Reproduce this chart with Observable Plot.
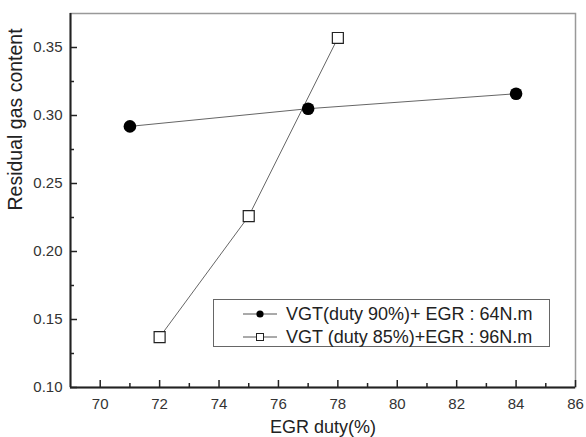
<!DOCTYPE html>
<html><head><meta charset="utf-8">
<script src="https://cdn.jsdelivr.net/npm/d3@7"></script>
<script src="https://cdn.jsdelivr.net/npm/@observablehq/plot@0.6"></script>
<style>
body{margin:0;background:#fff;font-family:"Liberation Sans",Arial,sans-serif;}
#wrap{position:relative;width:586px;height:437px;overflow:hidden;}
.legend{position:absolute;left:213px;top:299px;width:337px;height:48px;border:1px solid #666;box-sizing:border-box;background:#fff;}
.row{position:absolute;left:0;height:20px;display:flex;align-items:center;font-size:18px;color:#222;white-space:nowrap;}
.row svg{margin-left:29px;margin-right:9px;}
</style></head><body><div id="wrap"></div>
<script>
const series1Name = "VGT(duty 90%)+ EGR : 64N.m";
const series1X = [71, 77, 84];
const series1Y = [0.292, 0.305, 0.316];
const series2Name = "VGT (duty 85%)+EGR : 96N.m";
const series2X = [72, 75, 78];
const series2Y = [0.137, 0.226, 0.357];
const xTicks = [70, 72, 74, 76, 78, 80, 82, 84, 86];
const xMinor = [71, 73, 75, 77, 79, 81, 83, 85];
const yTicks = [0.10, 0.15, 0.20, 0.25, 0.30, 0.35];
const yMinor = [0.125, 0.175, 0.225, 0.275, 0.325];
const xTitle = "EGR duty(%)";
const yTitle = "Residual gas content";

const data1 = series1X.map((x, i) => ({x, y: series1Y[i]}));
const data2 = series2X.map((x, i) => ({x, y: series2Y[i]}));

const W = 586, H = 437, mL = 70, mR = 11, mT = 13, mB = 50;
const iW = W - mL - mR, iH = H - mT - mB;

const chart = Plot.plot({
  width: W, height: H,
  marginLeft: mL, marginRight: mR, marginTop: mT, marginBottom: mB,
  style: {fontFamily: "'Liberation Sans', Arial, sans-serif", color: "#333", background: "#fff"},
  x: {domain: [69, 86]},
  y: {domain: [0.10, 0.375]},
  marks: [
    Plot.frame({stroke: "#999", strokeWidth: 1.5}),
    Plot.ruleX([69], {stroke: "#222", strokeWidth: 2}),
    Plot.ruleY([0.10], {stroke: "#222", strokeWidth: 2}),
    Plot.tickX(xTicks, {x: d => d, insetTop: iH - 7, stroke: "#222", strokeWidth: 1.5}),
    Plot.tickX(xMinor, {x: d => d, insetTop: iH - 4, stroke: "#222", strokeWidth: 1.5}),
    Plot.tickY(yTicks, {y: d => d, insetRight: iW - 7, stroke: "#222", strokeWidth: 1.5}),
    Plot.tickY(yMinor, {y: d => d, insetRight: iW - 4, stroke: "#222", strokeWidth: 1.5}),
    Plot.axisX({ticks: xTicks, tickSize: 0, tickPadding: 11, tickFormat: d => d, fontSize: 15, label: null}),
    Plot.axisY({ticks: yTicks, tickSize: 0, tickPadding: 8, tickFormat: d3.format(".2f"), fontSize: 15, label: null}),
    Plot.text([xTitle], {frameAnchor: "bottom", dy: 40, lineAnchor: "middle", fontSize: 18, fill: "#222"}),
    Plot.text([yTitle], {frameAnchor: "left", dx: -62, dy: 10, rotate: -90, lineAnchor: "top", fontSize: 19.5, fill: "#222"}),
    Plot.line(data1, {x: "x", y: "y", stroke: "#666", strokeWidth: 1}),
    Plot.line(data2, {x: "x", y: "y", stroke: "#666", strokeWidth: 1}),
    Plot.dot(data1, {x: "x", y: "y", r: 6.3, fill: "#000", stroke: "none"}),
    Plot.dot(data2, {x: "x", y: "y", r: 6.2, symbol: "square", fill: "#fff", stroke: "#222", strokeWidth: 1.2})
  ]
});
const wrap = document.getElementById("wrap");
wrap.appendChild(chart);

const legend = document.createElement("div");
legend.className = "legend";
const rows = [
  {name: series1Name, sym: '<circle cx="17" cy="7" r="3.6" fill="#000"/>'},
  {name: series2Name, sym: '<rect x="13.5" y="3.5" width="7" height="7" fill="#fff" stroke="#222" stroke-width="1"/>'}
];
rows.forEach((r, i) => {
  const d = document.createElement("div");
  d.className = "row";
  d.style.top = (4 + i * 23) + "px";
  d.innerHTML = '<svg width="34" height="14"><line x1="0" x2="34" y1="7" y2="7" stroke="#555" stroke-width="1"/>' + r.sym + '</svg><span>' + r.name + '</span>';
  legend.appendChild(d);
});
wrap.appendChild(legend);
</script>
</body></html>
